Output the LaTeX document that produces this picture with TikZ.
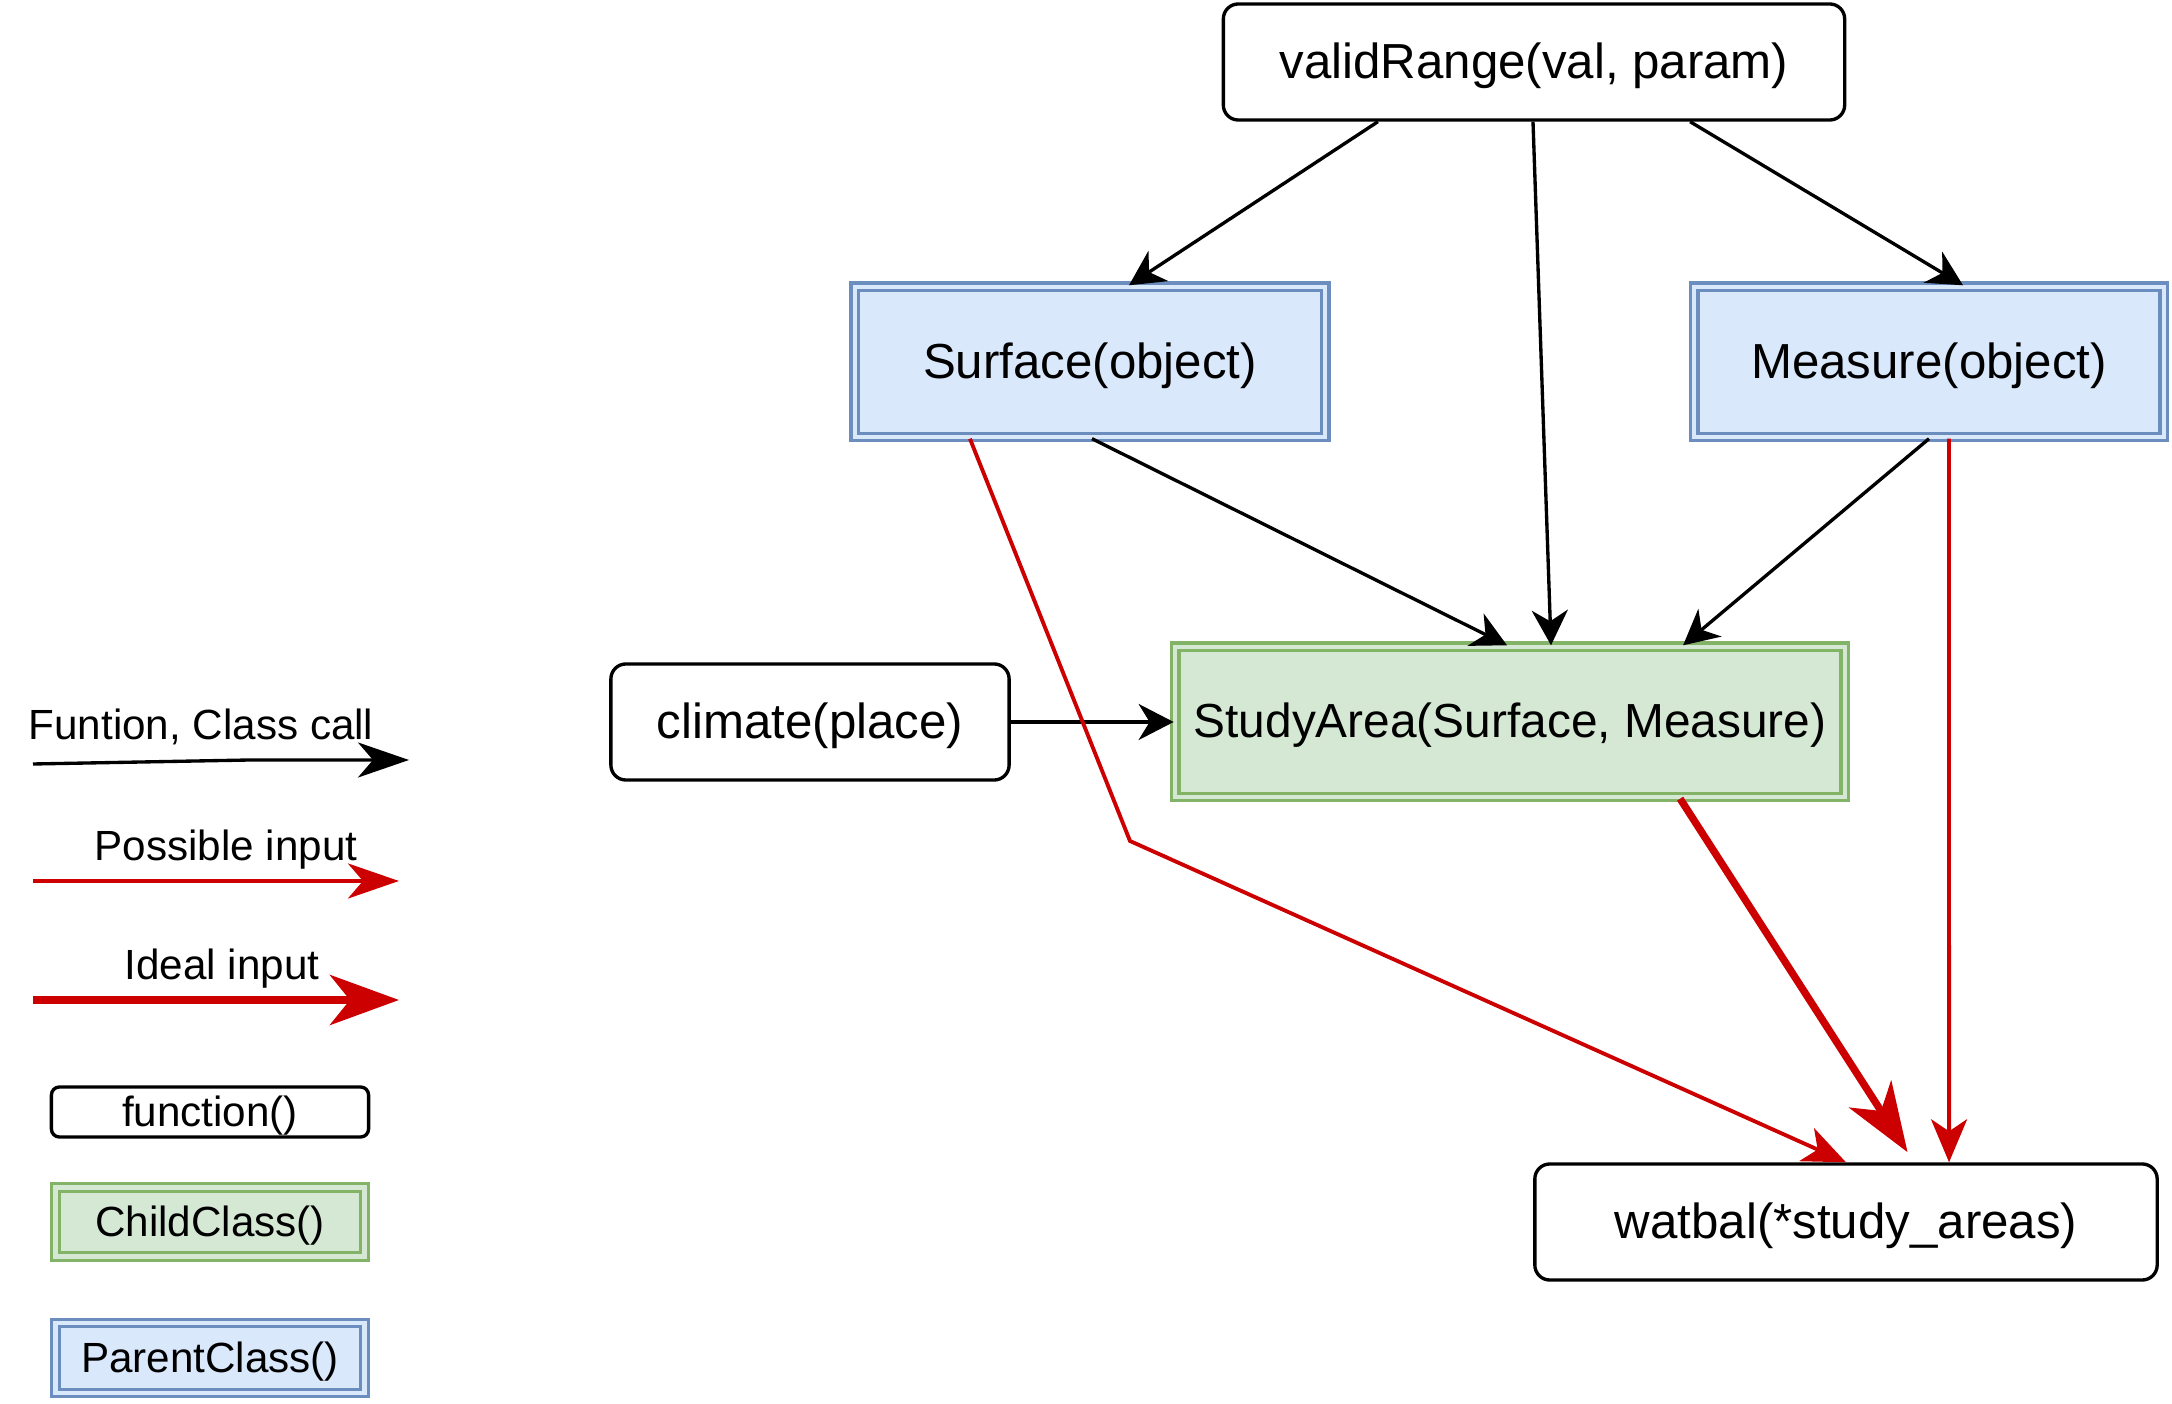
\documentclass[tikz,border=0pt]{standalone}
\usepackage{fontspec}
\setmainfont{Liberation Sans}
\usetikzlibrary{arrows.meta}

\definecolor{parentfill}{HTML}{DAE8FC}
\definecolor{parentline}{HTML}{6C8EBF}
\definecolor{childfill}{HTML}{D5E8D4}
\definecolor{childline}{HTML}{82B366}
\definecolor{inputred}{HTML}{CC0000}

\tikzset{
  func/.style={draw, line width=0.95pt, rounded corners=0.15cm, fill=white, inner sep=0pt},
  parentcls/.style={draw=parentline, double=parentfill, double distance=1.2pt, line width=0.95pt, fill=parentfill, inner sep=0pt},
  childcls/.style={draw=childline, double=childfill, double distance=1.2pt, line width=0.95pt, fill=childfill, inner sep=0pt},
  big/.style={font=\fontsize{14}{17}\selectfont, text depth=0.8pt},
  small/.style={font=\fontsize{12}{14}\selectfont, text depth=0.2pt},
  call/.style={line width=0.95pt, -{Stealth[length=0.35cm,width=0.36cm,inset=0.11cm]}},
  possible/.style={draw=inputred, line width=1.1pt, -{Stealth[length=0.43cm,width=0.36cm,inset=0.12cm]}},
  ideal/.style={draw=inputred, line width=2.1pt, -{Stealth[length=0.69cm,width=0.5cm,inset=0.2cm]}}
}

\begin{document}
\begin{tikzpicture}[x=0.01cm, y=-0.01cm]
    \useasboundingbox (0,0) rectangle (2172,1404);

    % classes and functions
    \node[func, big, minimum width=6.21cm, minimum height=1.16cm] (valid) at (1534,62) {validRange(val, param)};
    \node[parentcls, big, minimum width=4.70cm, minimum height=1.50cm] (surface) at (1090,362) {Surface(object)};
    \node[parentcls, big, minimum width=4.69cm, minimum height=1.50cm] (measure) at (1929,362) {Measure(object)};
    \node[childcls, big, font=\fontsize{13.6}{17}\selectfont, minimum width=6.69cm, minimum height=1.50cm] (study) at (1510,722) {StudyArea(Surface, Measure)};
    \node[func, big, minimum width=3.98cm, minimum height=1.16cm] (climate) at (810,722) {climate(place)};
    \node[func, big, minimum width=6.22cm, minimum height=1.16cm] (watbal) at (1846,1222) {watbal(*study\_areas)};

    \draw[call] ([xshift=-1.56cm]valid.south) -- ([xshift=0.39cm]surface.north);
    \draw[call] ([xshift=-0.01cm]valid.south) -- ([xshift=0.41cm]study.north);
    \draw[call] ([xshift=1.56cm]valid.south) -- ([xshift=0.34cm]measure.north);
    \draw[call] ([xshift=0.02cm]surface.south) -- ([xshift=-0.03cm]study.north);
    \draw[call] (measure.south) -- ([xshift=1.73cm]study.north);
    \draw[call] (climate.east) -- (study.west);

    \coordinate (bend) at (1130,841);
    \draw[possible] ([xshift=-1.20cm]surface.south) -- (bend) -- (watbal.north);
    \draw[ideal, shorten >=0.12cm] ([xshift=1.70cm]study.south) -- ([xshift=0.68cm]watbal.north);
    \draw[possible] ([xshift=0.20cm]measure.south) -- ([xshift=1.03cm]watbal.north);

    % legend
    \node[small] (keycall) at (201,725) {Funtion, Class call};
    \node[small] (keypossible) at (226,846) {Possible input};
    \node[small] (keyideal) at (222,965) {Ideal input};
    \coordinate (callA) at (33,764);
    \coordinate (callB) at (250,760);
    \coordinate (callC) at (409,760);
    \coordinate (possA) at (33,881);
    \coordinate (possB) at (399,881);
    \coordinate (idealA) at (33,1000);
    \coordinate (idealB) at (399,1000);
    \draw[line width=0.95pt, -{Stealth[length=0.51cm,width=0.35cm,inset=0.15cm]}] (callA) -- (callB) -- (callC);
    \draw[possible, -{Stealth[length=0.51cm,width=0.35cm,inset=0.15cm]}] (possA) -- (possB);
    \draw[ideal] (idealA) -- (idealB);

    \node[func, small, minimum width=3.17cm, minimum height=0.50cm, rounded corners=0.08cm] (keyfunc) at (210,1112) {function()};
    \node[childcls, small, minimum width=3.09cm, minimum height=0.69cm] (keychild) at (210,1222) {ChildClass()};
    \node[parentcls, small, minimum width=3.09cm, minimum height=0.70cm] (keyparent) at (210,1358) {ParentClass()};
\end{tikzpicture}
\end{document}
